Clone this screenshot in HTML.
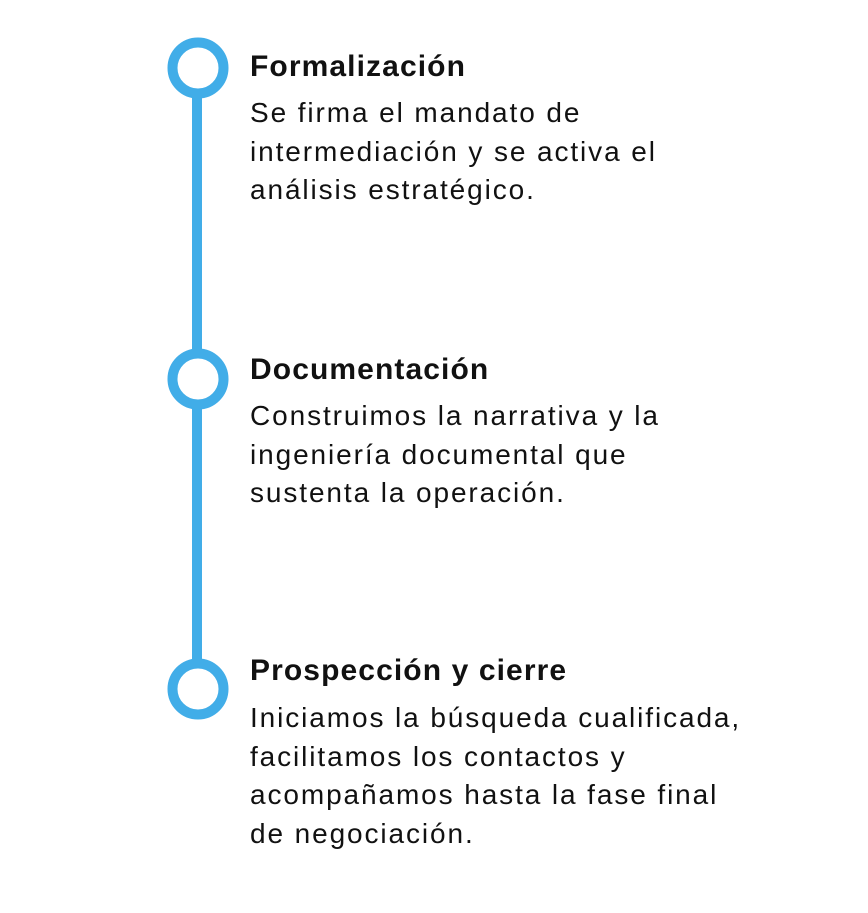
<!DOCTYPE html>
<html><head><meta charset="utf-8"><style>
html,body{margin:0;padding:0;background:#fff;}
body{width:868px;height:913px;position:relative;overflow:hidden;font-family:"Liberation Sans",sans-serif;color:#111;}
.t{position:absolute;left:250px;font-size:30px;font-weight:bold;line-height:34px;letter-spacing:1.1px;white-space:nowrap;}
.b{position:absolute;left:250px;font-size:28px;line-height:38.5px;letter-spacing:1.9px;white-space:nowrap;}
</style></head><body>
<svg width="868" height="913" style="position:absolute;left:0;top:0">
<line x1="197" y1="68" x2="197" y2="689" stroke="#41ade8" stroke-width="10"/>
<circle cx="198" cy="68" r="25.5" fill="#fff" stroke="#41ade8" stroke-width="10"/>
<circle cx="198" cy="379" r="25.5" fill="#fff" stroke="#41ade8" stroke-width="10"/>
<circle cx="198" cy="689" r="25.5" fill="#fff" stroke="#41ade8" stroke-width="10"/>
</svg>
<div class="t" style="top:50px">Formalización</div>
<div class="b" style="top:94px">Se firma el mandato de<br>intermediación y se activa el<br>análisis estratégico.</div>
<div class="t" style="top:353px">Documentación</div>
<div class="b" style="top:397px">Construimos la narrativa y la<br>ingeniería documental que<br>sustenta la operación.</div>
<div class="t" style="top:654px">Prospección y cierre</div>
<div class="b" style="top:699px">Iniciamos la búsqueda cualificada,<br>facilitamos los contactos y<br>acompañamos hasta la fase final<br>de negociación.</div>
</body></html>
